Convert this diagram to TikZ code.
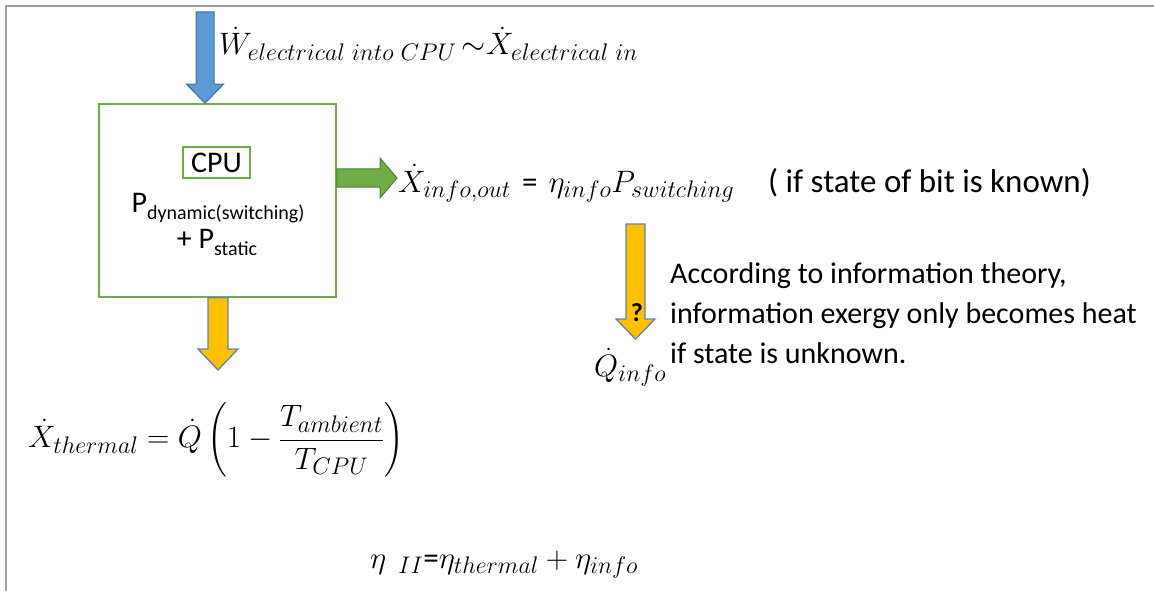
\RequirePackage{fix-cm}
\documentclass[tikz,border=0pt]{standalone}
\usepackage{amsmath}
\usepackage{fontspec}
\setmainfont{Carlito}
\usetikzlibrary{calc}
\DeclareMathSizes{31}{31}{24}{19}

\definecolor{cpugreen}{HTML}{70AD47}
\definecolor{greenline}{HTML}{507E32}
\definecolor{powerblue}{HTML}{5B9BD5}
\definecolor{blueline}{HTML}{41719C}
\definecolor{heatyellow}{HTML}{FFC000}
\definecolor{framegray}{HTML}{A0A0A0}

\tikzset{
  down block/.style n args={3}{to path={
    let \p1=(\tikztostart), \p2=(\tikztotarget) in
    (\x1-#1,\y1) -- (\x1+#1,\y1) -- (\x1+#1,\y2+#3) -- (\x1+#2,\y2+#3)
    -- (\x1,\y2) -- (\x1-#2,\y2+#3) -- (\x1-#1,\y2+#3) -- cycle}},
  right block/.style n args={3}{to path={
    let \p1=(\tikztostart), \p2=(\tikztotarget) in
    (\x1,\y1+#1) -- (\x2-#3,\y1+#1) -- (\x2-#3,\y1+#2) -- (\x2,\y1)
    -- (\x2-#3,\y1-#2) -- (\x2-#3,\y1-#1) -- (\x1,\y1-#1) -- cycle}},
}
\newcommand{\subtxt}[1]{\raisebox{-7pt}{\fontsize{20}{20}\selectfont #1}}

\begin{document}
\begin{tikzpicture}[x=1pt,y=-1pt,
    font=\fontsize{30}{36}\selectfont,
    cpubox/.style={draw=cpugreen, line width=1.5pt, minimum width=237pt,
      minimum height=193pt, inner sep=0pt},
    cpulabel/.style={draw=cpugreen, line width=1.5pt, minimum width=67pt,
      minimum height=31pt, inner sep=0pt},
    blueblock/.style={fill=powerblue, draw=blueline, line width=1pt},
    greenblock/.style={fill=cpugreen, draw=greenline, line width=1pt},
    yellowblock/.style={fill=heatyellow, draw=blueline!85, line width=1.3pt},
    eqn/.style={anchor=base west, inner sep=0pt},
    bigmath/.style={font=\fontsize{31}{37}\selectfont}]
    \useasboundingbox (0,0) rectangle (1154,591);

    % frame of the slide
    \draw[framegray, line width=1.5pt] (6,591) -- (6,6) -- (1154,6);

    % CPU block
    \node[cpubox] (cpu) at (217.5,200.5) {};
    \node[cpulabel] (cpulbl) at (216.5,162.5) {CPU};
    \node[anchor=base, inner sep=0pt] (pdyn) at (218,212)
        {P\subtxt{dynamic(switching)}};
    \node[anchor=base, inner sep=0pt] (pstat) at (217,248)
        {+ P\subtxt{static}};

    % electrical power in
    \coordinate (win) at (205,12);
    \draw[blueblock] (win) to[down block={9pt}{18.5pt}{19pt}] (cpu.north -| win);
    \node[eqn, bigmath] (wlabel) at (219,55)
        {$\dot W_{electrical\ into\ CPU}\,{\sim}\dot X_{electrical\ in}$};

    % information exergy out
    \coordinate (gtip) at (397,178);
    \draw[greenblock] (cpu.east |- gtip) to[right block={9pt}{20pt}{17pt}] (gtip);
    \node[eqn, bigmath] (xinfo) at (398,192)
        {$\dot X_{info,out}$\hspace{11pt}=\hspace{11pt}$\eta_{info}P_{switching}$};
    \node[eqn, font=\fontsize{33}{38}\selectfont] (known) at (768,192)
        {( if state of bit is known)};

    % heat out of the CPU
    \coordinate (qtip) at (218,370);
    \draw[yellowblock] (cpu.south -| qtip) to[down block={10pt}{20pt}{21pt}] (qtip);
    \node[anchor=west, inner sep=0pt, bigmath] (xtherm) at (28,440)
        {$\dot X_{thermal}=\dot Q\left(1-\dfrac{T_{ambient}}{T_{CPU}}\right)$};

    % information exergy to heat?
    \coordinate (itop) at (635.5,224);
    \coordinate (itip) at (635.5,339);
    \draw[yellowblock] (itop) to[down block={9.5pt}{19.5pt}{20pt}] (itip);
    \node[font=\fontsize{26}{30}\selectfont\bfseries] (qmark) at (637,313) {?};
    \node[eqn, bigmath] (qinfo) at (594,376) {$\dot Q_{info}$};

    \node[eqn] (info1) at (670,283) {According to information theory,};
    \node[eqn] (info2) at (670,323) {information exergy only becomes heat};
    \node[eqn] (info3) at (670,363) {if state is unknown.};

    % second law efficiency
    \node[eqn, bigmath] (eta) at (370,568)
        {$\eta\ \,{}_{II}$=$\eta_{thermal}+\eta_{info}$};
\end{tikzpicture}
\end{document}
